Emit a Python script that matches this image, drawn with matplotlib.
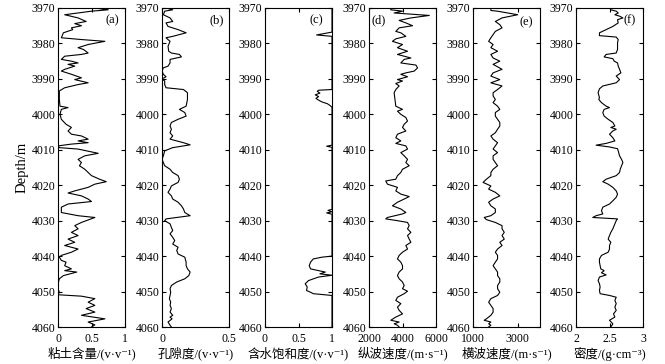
import matplotlib
matplotlib.use("Agg")
import matplotlib.pyplot as plt

plt.rcParams['font.family'] = ['Liberation Serif', 'Noto Sans CJK SC', 'DejaVu Sans']
plt.rcParams['font.size'] = 9

# (a) clay content
clay_depth = [3970.0, 3970.5, 3970.9, 3971.9, 3972.8, 3973.8, 3974.4, 3975.0, 3975.6, 3976.1,
              3977.0, 3978.4, 3978.9, 3979.4, 3980.3, 3981.2, 3981.7, 3982.7, 3983.1, 3983.6,
              3984.5, 3985.0, 3985.5, 3985.9, 3986.4, 3987.3, 3987.8, 3988.7, 3989.7, 3990.2,
              3991.1, 3991.6, 3992.5, 3993.4, 3995.8, 3997.7, 3998.1, 3998.6, 4000.0, 4001.4,
              4002.8, 4003.7, 4004.7, 4005.6, 4006.1, 4007.0, 4007.5, 4008.0, 4008.4, 4008.9,
              4009.4, 4009.8, 4011.0, 4011.7, 4012.7, 4013.6, 4014.5, 4015.5, 4016.4, 4017.3,
              4018.3, 4019.0, 4019.7, 4020.6, 4021.6, 4022.2, 4023.0, 4023.9, 4024.6, 4025.3,
              4026.2, 4027.7, 4028.6, 4029.1, 4030.5, 4031.4, 4032.3, 4033.3, 4034.2, 4035.2,
              4036.1, 4037.0, 4038.0, 4038.9, 4039.8, 4040.3, 4041.2, 4041.7, 4042.7, 4043.6,
              4044.1, 4044.5, 4045.5, 4046.4, 4047.8, 4049.2, 4050.2, 4050.9, 4051.3, 4052.0,
              4053.0, 4053.9, 4054.8, 4055.8, 4056.7, 4057.7, 4058.6, 4059.4, 4060.0]
clay_vals = [0.55, 0.75, 0.5, 0.1, 0.3, 0.42, 0.25, 0.35, 0.2, 0.22,
             0.08, 0.05, 0.35, 0.7, 0.45, 0.3, 0.38, 0.45, 0.35, 0.1,
             0.05, 0.2, 0.3, 0.15, 0.25, 0.1, 0.05, 0.2, 0.35, 0.25,
             0.45, 0.3, 0.1, 0.02, 0.02, 0.03, 0.15, 0.05, 0.03, 0.05,
             0.12, 0.2, 0.15, 0.2, 0.35, 0.45, 0.3, 0.45, 0.2, 0.0,
             0.02, 0.3, 0.6, 0.4, 0.3, 0.35, 0.32, 0.4, 0.45, 0.5,
             0.62, 0.72, 0.55, 0.45, 0.25, 0.15, 0.35, 0.45, 0.5, 0.15,
             0.05, 0.05, 0.3, 0.55, 0.35, 0.25, 0.3, 0.2, 0.3, 0.15,
             0.25, 0.1, 0.3, 0.2, 0.05, 0.02, 0.05, 0.12, 0.1, 0.2,
             0.1, 0.28, 0.08, 0.02, 0.0, 0.0, 0.02, 0.0, 0.35, 0.55,
             0.45, 0.55, 0.42, 0.55, 0.35, 0.7, 0.45, 0.55, 0.5]

# (b) porosity
por_depth = [3970.0, 3970.5, 3970.9, 3971.9, 3972.8, 3973.8, 3974.2, 3975.2, 3976.1, 3977.0,
             3978.0, 3978.4, 3979.4, 3980.8, 3982.2, 3982.7, 3983.1, 3983.8, 3984.5, 3985.5,
             3986.4, 3986.9, 3987.8, 3988.7, 3989.4, 3990.0, 3990.6, 3991.6, 3992.5, 3993.0,
             3993.9, 3995.8, 3997.7, 3998.6, 3999.5, 4000.5, 4001.4, 4002.3, 4003.3, 4004.2,
             4005.2, 4006.1, 4007.0, 4008.0, 4008.6, 4009.4, 4010.3, 4011.7, 4012.7, 4013.6,
             4014.5, 4015.5, 4016.4, 4017.3, 4018.3, 4019.2, 4020.2, 4021.1, 4022.0, 4023.0,
             4023.9, 4024.8, 4025.8, 4026.7, 4027.7, 4028.6, 4029.5, 4030.0, 4030.9, 4031.9,
             4032.8, 4033.7, 4034.7, 4035.6, 4036.6, 4037.5, 4038.4, 4039.4, 4040.3, 4041.7,
             4042.7, 4043.6, 4044.5, 4045.5, 4046.4, 4047.3, 4048.3, 4049.2, 4050.2, 4051.1,
             4052.0, 4053.0, 4053.9, 4054.8, 4055.8, 4056.7, 4057.2, 4057.7, 4058.6, 4059.5, 4060.0]
por_vals = [0.03, 0.08, 0.02, 0.01, 0.06, 0.08, 0.03, 0.045, 0.12, 0.18,
            0.08, 0.03, 0.06, 0.045, 0.05, 0.07, 0.13, 0.145, 0.06, 0.06,
            0.045, 0.01, 0.0, 0.01, 0.03, 0.0, 0.02, 0.02, 0.03, 0.16,
            0.19, 0.19, 0.18, 0.13, 0.17, 0.18, 0.12, 0.07, 0.06, 0.07,
            0.06, 0.08, 0.06, 0.16, 0.21, 0.08, 0.02, 0.01, 0.0, 0.01,
            0.02, 0.06, 0.08, 0.12, 0.13, 0.12, 0.07, 0.06, 0.045, 0.07,
            0.08, 0.12, 0.145, 0.16, 0.17, 0.21, 0.03, 0.02, 0.06, 0.07,
            0.08, 0.06, 0.08, 0.095, 0.08, 0.12, 0.11, 0.12, 0.17, 0.18,
            0.18, 0.19, 0.21, 0.2, 0.17, 0.11, 0.07, 0.06, 0.065, 0.06,
            0.055, 0.065, 0.06, 0.07, 0.06, 0.08, 0.06, 0.075, 0.045, 0.06, 0.07]

# (c) water saturation
sw_depth = [3970.0, 3976.8, 3977.6, 3978.0, 3993.0, 3993.2, 3993.5, 3994.0, 3994.5, 3995.0,
            3995.5, 3996.0, 3996.5, 3997.0, 3997.5, 3998.0, 4008.7, 4009.0, 4009.3, 4026.8,
            4027.1, 4027.5, 4027.8, 4028.2, 4028.5, 4040.0, 4040.3, 4040.8, 4041.7, 4042.7,
            4043.6, 4044.1, 4044.5, 4045.0, 4045.4, 4045.9, 4046.9, 4047.8, 4048.7, 4049.7,
            4050.2, 4050.6, 4051.1, 4060.0]
sw_vals = [1.0, 1.0, 0.77, 1.0, 1.0, 0.8, 0.78, 0.82, 0.75, 0.8,
           0.76, 0.8, 0.85, 0.93, 0.97, 1.0, 1.0, 0.92, 1.0, 1.0,
           0.94, 1.0, 0.92, 1.0, 1.0, 1.0, 0.85, 0.72, 0.68, 0.66,
           0.68, 0.8, 0.9, 0.82, 1.0, 0.8, 0.65, 0.6, 0.63, 0.62,
           0.68, 0.72, 1.0, 1.0]

# (d) P-wave velocity
vp_depth = [3970.0, 3970.5, 3970.9, 3971.4, 3972.1, 3972.8, 3973.5, 3974.2, 3975.0, 3975.6,
            3976.6, 3977.0, 3978.0, 3978.7, 3979.4, 3980.3, 3981.2, 3982.2, 3983.1, 3984.1,
            3984.5, 3985.5, 3986.1, 3986.9, 3987.8, 3988.3, 3988.7, 3989.4, 3990.2, 3990.6,
            3991.3, 3992.0, 3993.0, 3993.9, 3995.8, 3997.7, 3998.6, 3999.1, 4000.0, 4000.9,
            4001.9, 4002.8, 4003.7, 4004.7, 4005.6, 4006.6, 4007.5, 4008.2, 4008.9, 4009.8,
            4010.8, 4011.7, 4012.7, 4013.6, 4014.5, 4015.5, 4016.4, 4017.3, 4018.3, 4018.8,
            4019.7, 4020.6, 4021.6, 4022.5, 4023.2, 4023.9, 4024.8, 4025.8, 4026.7, 4027.7,
            4028.1, 4029.1, 4029.5, 4030.0, 4030.5, 4031.4, 4032.3, 4033.3, 4034.2, 4035.2,
            4036.1, 4037.0, 4038.0, 4038.9, 4039.8, 4040.8, 4041.7, 4042.7, 4043.6, 4044.5,
            4045.5, 4046.4, 4047.3, 4048.3, 4049.2, 4049.9, 4050.6, 4051.6, 4052.5, 4053.4,
            4054.4, 4055.3, 4056.3, 4057.2, 4058.1, 4058.6, 4059.1, 4059.5, 4060.0]
vp_vals = [3300, 3300, 4000, 3500, 5600, 4500, 3800, 4200, 4600, 3800,
           3600, 3900, 4200, 3600, 3400, 4000, 3700, 4300, 3700, 4500,
           4100, 3900, 4800, 4900, 4700, 4200, 3900, 4300, 3700, 4000,
           3600, 3800, 3600, 3500, 3550, 3600, 4000, 3700, 3900, 4200,
           4300, 4100, 4000, 4200, 3700, 3600, 3900, 3600, 4200, 4300,
           3900, 4100, 4300, 4200, 4400, 4000, 3900, 3700, 3600, 3000,
           3100, 3700, 3600, 3900, 4400, 4100, 3700, 3400, 3900, 4200,
           4000, 3100, 3000, 3700, 4300, 4400, 4300, 4500, 4300, 4400,
           4500, 4200, 4300, 4000, 3800, 3700, 3900, 4000, 4000, 3800,
           3700, 3800, 4000, 4100, 4000, 4300, 4100, 3700, 3600, 3900,
           3700, 3800, 4000, 3600, 3300, 3800, 3500, 3700, 3800]

# (e) S-wave velocity
vs_depth = [3970.0, 3970.7, 3970.9, 3971.9, 3972.8, 3973.8, 3974.7, 3975.6, 3976.6, 3977.5,
            3978.4, 3979.4, 3980.3, 3981.2, 3982.2, 3983.1, 3984.1, 3985.0, 3985.9, 3987.3,
            3988.3, 3989.2, 3990.2, 3991.1, 3992.0, 3993.0, 3993.9, 3994.8, 3995.8, 3996.7,
            3997.7, 3998.6, 3999.5, 4000.5, 4001.4, 4002.3, 4003.3, 4004.2, 4005.2, 4006.1,
            4007.0, 4008.0, 4008.9, 4009.8, 4010.8, 4011.7, 4012.7, 4013.6, 4014.5, 4015.5,
            4016.4, 4017.3, 4018.3, 4019.2, 4020.2, 4021.1, 4022.0, 4023.0, 4023.9, 4024.8,
            4025.8, 4026.7, 4027.7, 4028.6, 4029.1, 4029.7, 4030.5, 4031.4, 4032.3, 4033.3,
            4034.2, 4035.2, 4036.1, 4037.0, 4038.0, 4038.9, 4039.8, 4040.8, 4041.7, 4042.7,
            4043.6, 4044.5, 4045.5, 4046.4, 4047.3, 4048.3, 4049.2, 4050.2, 4051.1, 4052.0,
            4053.0, 4053.9, 4054.8, 4055.8, 4056.7, 4057.7, 4058.1, 4058.6, 4059.1, 4059.5, 4060.0]
vs_vals = [1800, 1800, 2100, 3000, 2300, 2000, 2200, 2300, 2000, 1900,
           1800, 1700, 1900, 1800, 2100, 1800, 1900, 2200, 1900, 2300,
           1900, 1800, 2200, 1800, 2300, 2100, 1900, 1900, 2000, 1900,
           2100, 2200, 2000, 2000, 2100, 2200, 2200, 2100, 2000, 1800,
           1900, 2100, 2000, 1900, 2100, 1900, 1900, 2000, 2100, 1900,
           1800, 1800, 1600, 1450, 1800, 1700, 2000, 2200, 1900, 1700,
           1800, 2000, 2000, 1800, 1500, 1600, 2000, 2300, 2300, 2400,
           2300, 2400, 2200, 2300, 2100, 2000, 2100, 2100, 2000, 1900,
           2000, 2100, 2100, 2200, 2200, 2100, 2100, 2200, 2100, 1800,
           1700, 1800, 1900, 1900, 1800, 1600, 1500, 1800, 1700, 1800, 1700]

# (f) density
den_depth = [3970.0, 3970.5, 3970.9, 3971.4, 3971.9, 3972.3, 3972.8, 3973.3, 3974.2, 3975.2,
             3976.1, 3977.0, 3977.8, 3978.2, 3978.9, 3979.8, 3980.8, 3981.7, 3982.7, 3983.1,
             3983.8, 3984.3, 3985.0, 3985.5, 3986.4, 3987.3, 3988.3, 3989.2, 3990.2, 3991.1,
             3992.0, 3992.8, 3993.9, 3995.3, 3995.8, 3996.7, 3997.7, 3998.1, 3998.6, 3999.5,
             4000.5, 4001.4, 4002.3, 4003.3, 4003.7, 4004.2, 4004.7, 4005.6, 4006.6, 4007.5,
             4008.2, 4008.7, 4009.2, 4009.7, 4010.3, 4011.7, 4012.7, 4013.6, 4014.5, 4015.5,
             4016.4, 4017.3, 4018.3, 4019.0, 4019.7, 4020.6, 4021.6, 4022.5, 4023.4, 4024.4,
             4025.3, 4026.2, 4027.2, 4028.1, 4028.6, 4029.1, 4029.5, 4030.0, 4030.9, 4032.3,
             4033.3, 4034.2, 4035.2, 4036.1, 4037.0, 4038.0, 4038.9, 4039.8, 4040.8, 4041.7,
             4042.7, 4043.6, 4044.1, 4044.7, 4045.3, 4045.9, 4046.9, 4047.8, 4048.7, 4049.7,
             4050.6, 4051.1, 4051.6, 4052.5, 4053.4, 4054.4, 4055.3, 4056.3, 4057.2, 4058.1,
             4059.1, 4060.0]
den_vals = [2.51, 2.52, 2.6, 2.63, 2.58, 2.65, 2.7, 2.62, 2.63, 2.55,
            2.45, 2.35, 2.35, 2.6, 2.63, 2.62, 2.62, 2.62, 2.6, 2.45,
            2.42, 2.55, 2.57, 2.62, 2.63, 2.65, 2.67, 2.6, 2.65, 2.6,
            2.4, 2.35, 2.33, 2.35, 2.34, 2.38, 2.45, 2.5, 2.42, 2.4,
            2.42, 2.48, 2.55, 2.58, 2.52, 2.6, 2.55, 2.5, 2.55, 2.58,
            2.45, 2.3, 2.5, 2.62, 2.63, 2.65, 2.68, 2.7, 2.68, 2.66,
            2.65, 2.6, 2.45, 2.4, 2.48, 2.55, 2.6, 2.62, 2.6, 2.55,
            2.5, 2.4, 2.38, 2.4, 2.3, 2.25, 2.62, 2.6, 2.58, 2.55,
            2.52, 2.5, 2.48, 2.52, 2.5, 2.5, 2.48, 2.38, 2.35, 2.35,
            2.36, 2.37, 2.42, 2.38, 2.45, 2.35, 2.33, 2.35, 2.36, 2.35,
            2.36, 2.5, 2.6, 2.58, 2.6, 2.58, 2.6, 2.56, 2.58, 2.5,
            2.55, 2.52]

xlabels = ['粘土含量/(v·v⁻¹)', '孔隙度/(v·v⁻¹)', '含水饱和度/(v·v⁻¹)',
           '纵波速度/(m·s⁻¹)', '横波速度/(m·s⁻¹)', '密度/(g·cm⁻³)']
panel_tags = ['(a)', '(b)', '(c)', '(d)', '(e)', '(f)']
xlims = [(0, 1), (0, 0.5), (0, 1), (2000, 6000), (1000, 4000), (2, 3)]
xticks = [[0, 0.5, 1], [0, 0.5], [0, 0.5, 1], [2000, 4000, 6000], [1000, 3000], [2, 2.5, 3]]
xticklabels = [['0', '0.5', '1'], ['0', '0.5'], ['0', '0.5', '1'],
               ['2000', '4000', '6000'], ['1000', '3000'], ['2', '2.5', '3']]
depth_ticks = [3970, 3980, 3990, 4000, 4010, 4020, 4030, 4040, 4050, 4060]

series = [(clay_depth, clay_vals), (por_depth, por_vals), (sw_depth, sw_vals),
          (vp_depth, vp_vals), (vs_depth, vs_vals), (den_depth, den_vals)]
tag_x = [0.81, 0.82, 0.76, 0.14, 0.8, 0.8]
tag_y = [0.962, 0.962, 0.962, 0.962, 0.955, 0.962]

W, H = 665, 364
fig = plt.figure(figsize=(W / 100, H / 100), dpi=100)
lefts = [58, 162, 265, 369, 473, 576]
axw = 67
top, bottom = 8, 327
for i, (d, v) in enumerate(series):
    ax = fig.add_axes([lefts[i] / W, 1 - bottom / H, axw / W, (bottom - top) / H])
    ax.plot(v, d, color='black', lw=0.8)
    ax.set_xlim(*xlims[i])
    ax.set_ylim(4060, 3970)
    ax.set_xticks(xticks[i])
    ax.set_xticklabels(xticklabels[i])
    ax.set_yticks(depth_ticks)
    ax.tick_params(direction='in', top=True, right=True, length=3, width=0.8,
                   labelsize=8.5)
    ax.tick_params(axis='x', pad=4.5)
    ax.tick_params(axis='y', pad=2.0)
    for s in ax.spines.values():
        s.set_linewidth(0.8)
    ax.set_xlabel(xlabels[i], fontsize=9, labelpad=1)
    ax.text(tag_x[i], tag_y[i], panel_tags[i], transform=ax.transAxes,
            ha='center', va='center', fontsize=9)
    if i == 0:
        ax.set_ylabel('Depth/m', fontsize=10.5, labelpad=2)

fig.savefig('out.png', dpi=100)
